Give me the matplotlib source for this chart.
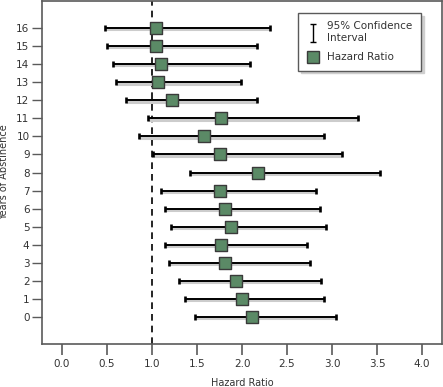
import numpy as np
import matplotlib.pyplot as plt
from matplotlib.path import Path
from matplotlib.lines import Line2D

years = list(range(17))
hazard = [2.11, 2.00, 1.93, 1.81, 1.77, 1.88, 1.81, 1.76, 2.18, 1.76, 1.58, 1.77, 1.22, 1.07, 1.10, 1.04, 1.04]
ci_low = [1.48, 1.37, 1.30, 1.19, 1.14, 1.21, 1.14, 1.10, 1.42, 1.01, 0.855, 0.955, 0.71, 0.60, 0.57, 0.50, 0.478]
ci_high = [3.04, 2.91, 2.88, 2.76, 2.72, 2.93, 2.87, 2.82, 3.53, 3.11, 2.91, 3.29, 2.17, 1.99, 2.09, 2.17, 2.31]
xticks = [0.0, 0.5, 1.0, 1.5, 2.0, 2.5, 3.0, 3.5, 4.0]

green = "#5b8a66"
frame = "#5a5a5a"

fig = plt.figure(figsize=(4.43, 3.87), dpi=100)
ax = fig.add_axes([42 / 443, 43 / 387, 400 / 443, 343 / 387])

hz = np.array(hazard)
err = [hz - np.array(ci_low), np.array(ci_high) - hz]

ax.axvline(1.0, color="black", lw=1.2, ls=(0, (4, 3)), zorder=1)
# faint shadow under the interval lines
ax.errorbar(hz, np.array(years) - 0.07, xerr=err, fmt="none", ecolor="#cccccc",
            elinewidth=2.2, capsize=0, zorder=1.5)
ax.errorbar(hz, years, xerr=err, fmt="none", ecolor="black", elinewidth=1.4,
            capsize=2.2, capthick=1.9, zorder=2)
ax.scatter(hz, years, marker="s", s=75, color=green, edgecolor="#3a3a3a",
           linewidth=1.0, zorder=3)

ax.set_xlim(-0.22, 4.22)
ax.set_ylim(-1.5, 17.5)
ax.set_xticks(xticks)
ax.set_xticklabels([f"{t:.1f}" for t in xticks])
ax.set_yticks(years)
ax.tick_params(axis="x", direction="out", length=8, width=1.2, color=frame,
               labelsize=7.5, labelcolor="#333333", pad=3)
ax.tick_params(axis="y", direction="out", length=7, width=1.0, color=frame,
               labelsize=7.5, labelcolor="#333333", pad=2)
for s in ax.spines.values():
    s.set_color(frame)
    s.set_linewidth(1.2)

ax.set_xlabel("Hazard Ratio", fontsize=7, color="#333333", labelpad=6)
ax.set_ylabel("Years of Abstinence", fontsize=7, color="#333333", labelpad=5)

ibeam = Path([(-0.3, 1), (0.3, 1), (0, 1), (0, -1), (-0.3, -1), (0.3, -1)],
             [Path.MOVETO, Path.LINETO, Path.MOVETO, Path.LINETO, Path.MOVETO, Path.LINETO])
handles = [
    Line2D([], [], ls="none", marker=ibeam, markersize=13, color="black",
           markeredgewidth=1.0, markerfacecolor="none"),
    Line2D([], [], ls="none", marker="s", markersize=8.5, markerfacecolor=green,
           markeredgecolor="#3a3a3a", markeredgewidth=1.0),
]
leg = ax.legend(handles, ["95% Confidence\nInterval", "Hazard Ratio"],
                loc="upper right", bbox_to_anchor=(0.96, 0.98), fontsize=7.5,
                frameon=True, fancybox=False, shadow={"color": "#cfcfcf", "alpha": 1},
                handlelength=1.2, handletextpad=0.8, labelspacing=0.9,
                borderpad=0.8, labelcolor="#333333")
leg.get_frame().set_edgecolor(frame)
leg.get_frame().set_linewidth(1.0)

fig.savefig("out.png", dpi=100)
